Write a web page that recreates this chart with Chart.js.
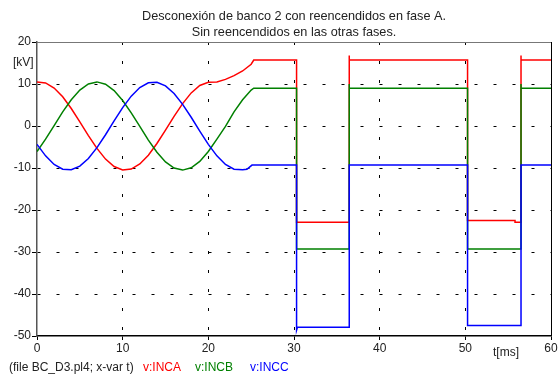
<!DOCTYPE html>
<html>
<head>
<meta charset="utf-8">
<script src="https://cdn.jsdelivr.net/npm/chart.js@4"></script>
<style>
  html, body { margin: 0; padding: 0; background: #fff; }
  #c { display: block; }
</style>
</head>
<body>
<canvas id="c" width="560" height="375" style="width:560px;height:375px"></canvas>
<script>
// ---- data ----
const titleLines = ["Desconexión de banco 2 con reencendidos en fase A.", "Sin reencendidos en las otras fases."];
const xTicks = [0, 10, 20, 30, 40, 50, 60];
const yTicks = [20, 10, 0, -10, -20, -30, -40, -50];

const timesA = [0,1,2,3,4,5,6,7,8,9,10,11,12,13,14,15,16,17,18,19,20,21,22,23,24,25,25.3,30.3,30.3,36.45,36.45,36.45,50.26,50.26,55.8,55.8,56.5,56.5,56.5,60];
const incaV  = [10.45,10.25,9.04,6.94,4.17,0.99,-2.29,-5.34,-7.88,-9.64,-10.45,-10.25,-9.04,-6.94,-4.17,-0.99,2.29,5.34,7.88,9.64,10.4,10.5,11.1,12.0,13.1,14.7,15.7,15.7,-22.9,-22.9,16.8,15.7,15.7,-22.5,-22.5,-22.9,-22.9,16.8,15.7,15.7];

const timesB = [0,1,2,3,4,5,6,7,8,9,10,11,12,13,14,15,16,17,18,19,20,21,22,23,24,25,25.3,30.3,30.3,36.45,36.45,36.45,50.26,50.26,56.5,56.5,56.5,60];
const incbV  = [-6.08,-3.14,0.11,3.35,6.26,8.56,10.02,10.50,9.95,8.43,6.08,3.14,-0.11,-3.35,-6.26,-8.56,-10.02,-10.50,-9.95,-8.43,-6.08,-3.14,-0.11,3.35,6.26,8.56,9.0,9.0,-29.3,-29.3,10.0,9.0,9.0,-29.3,-29.3,10.0,9.0,9.0];

const timesC = [0,1,2,3,4,5,6,7,8,9,10,11,12,13,14,15,16,17,18,19,20,21,22,23,24,24.5,25.1,30.3,30.3,30.4,36.45,36.45,50.26,50.26,56.5,56.5,60];
const inccV  = [-4.37,-7.11,-9.15,-10.29,-10.43,-9.55,-7.73,-5.15,-2.08,1.21,4.37,7.11,9.15,10.29,10.43,9.55,7.73,5.15,2.08,-1.21,-4.37,-7.11,-9.15,-10.29,-10.43,-10.3,-9.3,-9.3,-48.6,-47.9,-47.9,-9.3,-9.3,-47.5,-47.5,-9.3,-9.3];

const seriesNames = ["v:INCA", "v:INCB", "v:INCC"];
const seriesColors = ["#ff0000", "#008000", "#0000ff"];
const fileLabel = "(file BC_D3.pl4; x-var t)";
const yUnit = "[kV]";
const xUnit = "t[ms]";

// ---- build ----
function pts(ts, vs) { return ts.map((t, i) => ({ x: t, y: vs[i] })); }
const FONT = '"Liberation Sans", Arial, sans-serif';

const textPlugin = {
  id: 'texts',
  afterDraw(chart) {
    const ctx = chart.ctx;
    const a = chart.chartArea;
    ctx.save();
    // top & right frame
    ctx.lineWidth = 1;
    ctx.strokeStyle = '#777';
    ctx.beginPath(); ctx.moveTo(a.left, a.top + 0.5); ctx.lineTo(a.right, a.top + 0.5); ctx.stroke();
    ctx.strokeStyle = '#000';
    ctx.beginPath(); ctx.moveTo(a.right + 0.5, a.top); ctx.lineTo(a.right + 0.5, a.bottom); ctx.stroke();

    ctx.textBaseline = 'middle';
    ctx.fillStyle = '#222';
    ctx.textAlign = 'center';
    ctx.font = '12.7px ' + FONT;
    const cx = (a.left + a.right) / 2;
    ctx.fillText(titleLines[0], cx, 16);
    ctx.fillText(titleLines[1], cx, 32);
    ctx.font = '12px ' + FONT;
    ctx.textAlign = 'left';
    ctx.fillText(yUnit, 13, 63);
    ctx.fillText(xUnit, 493, 353);
    ctx.fillText(fileLabel, 9, 368);
    const lx = [143, 195, 250];
    seriesNames.forEach((n, i) => { ctx.fillStyle = seriesColors[i]; ctx.fillText(n, lx[i], 368); });
    ctx.restore();
  }
};

const gridColor = (edges) => (c) => (c.tick && edges.includes(c.tick.value)) ? 'rgba(0,0,0,0)' : '#000';

new Chart(document.getElementById('c'), {
  type: 'line',
  data: {
    datasets: [
      { label: seriesNames[0], data: pts(timesA, incaV), borderColor: seriesColors[0], order: 3 },
      { label: seriesNames[1], data: pts(timesB, incbV), borderColor: seriesColors[1], order: 2 },
      { label: seriesNames[2], data: pts(timesC, inccV), borderColor: seriesColors[2], order: 1 }
    ]
  },
  options: {
    responsive: false,
    animation: false,
    devicePixelRatio: 1,
    layout: { padding: { top: 42, right: 9, left: 0, bottom: 0 } },
    plugins: { legend: { display: false }, title: { display: false }, tooltip: { enabled: false } },
    elements: { point: { radius: 0 }, line: { tension: 0, borderWidth: 1.5, fill: false } },
    scales: {
      x: {
        type: 'linear', min: 0, max: 60,
        afterBuildTicks: (s) => { s.ticks = xTicks.map(v => ({ value: v })); },
        afterFit: (s) => { s.height = 39; },
        ticks: { font: { family: FONT, size: 12 }, color: '#222', padding: 1, maxRotation: 0, autoSkip: false },
        grid: { color: gridColor([0, 60]), lineWidth: 1, tickColor: '#000', tickLength: 4, drawTicks: true },
        border: { display: true, color: '#000', width: 1.5, dash: [3, 16] }
      },
      y: {
        type: 'linear', min: -50, max: 20,
        afterBuildTicks: (s) => { s.ticks = yTicks.map(v => ({ value: v })); },
        afterFit: (s) => { s.width = 37; },
        ticks: { font: { family: FONT, size: 12 }, color: '#222', padding: 1, autoSkip: false },
        grid: { color: gridColor([20, -50]), lineWidth: 1, tickColor: '#000', tickLength: 5, drawTicks: true },
        border: { display: true, color: '#555', width: 1.5, dash: [3, 16] }
      }
    }
  },
  plugins: [textPlugin]
});
</script>
</body>
</html>
